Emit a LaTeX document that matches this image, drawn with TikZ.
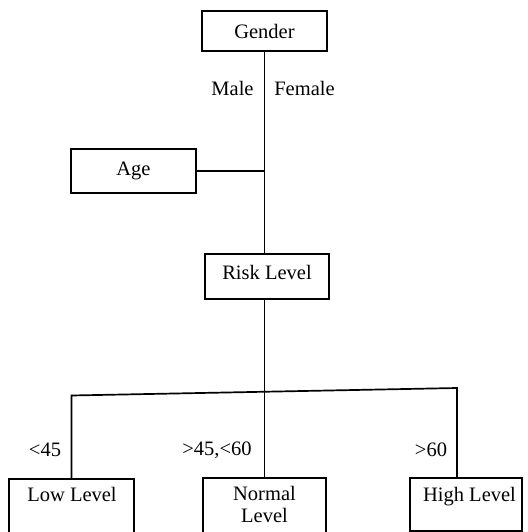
\documentclass[tikz,border=0pt]{standalone}
\usepackage{fontspec}
\setmainfont{Liberation Serif}
\begin{document}
\begin{tikzpicture}[x=1pt,y=-1pt,
  box/.style={draw=black, line width=1.6pt, rectangle, inner sep=0pt},
  txt/.style={inner sep=0pt, font=\fontsize{20.5}{22}\selectfont, align=center},
  wire/.style={draw=black, line width=1.7pt}]
\clip (0,0) rectangle (527,532);
\fill[white] (0,0) rectangle (527,532);
% boxes
\node[box, minimum width=125pt, minimum height=40pt, txt] (gender) at (264.5,31) {Gender};
\node[box, minimum width=125pt, minimum height=44pt, txt] (age) at (133.5,171) {Age};
\node[box, minimum width=124pt, minimum height=45pt, txt] (risk) at (267,276.5) {};
\node[txt] (risktxt) at (267,272) {Risk Level};
\node[box, minimum width=125pt, minimum height=70pt, anchor=north] (low) at (71.5,478) {};
\node[box, minimum width=123pt, minimum height=70pt, anchor=north] (normal) at (264.5,477) {};
\node[box, minimum width=112pt, minimum height=53pt, anchor=north] (high) at (466,477) {};
\node[txt, anchor=north] (lowtxt) at (72,487.5) {Low Level};
\node[txt, anchor=north] (normaltxt) at (264.5,486.5) {Normal\\Level};
\node[txt, anchor=north] (hightxt) at (469.5,487) {High Level};
% labels
\node[txt] (male) at (232.5,88) {Male};
\node[txt] (female) at (304.5,88) {Female};
\node[txt] (l45) at (45,450) {<45};
\node[txt] (l4560) at (217,450) {>45,<60};
\node[txt] (l60) at (431,450) {>60};
% connectors
\coordinate (bl) at (71.5,395.5);
\coordinate (br) at (457,388);
\coordinate (hightop) at (457,477);
\draw[wire] (gender.south) -- (gender.south |- risk.north);
\draw[wire] (age.east) -- (age.east -| gender.south);
\draw[wire] (normal.north) -- (normal.north |- risk.south);
\draw[wire] (low.north) -- (bl) -- (br) -- (hightop);
\end{tikzpicture}
\end{document}
